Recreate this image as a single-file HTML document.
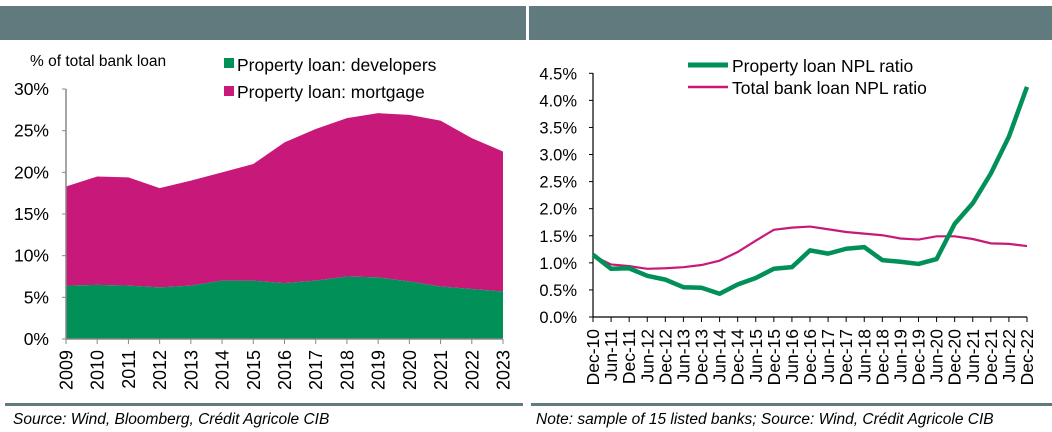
<!DOCTYPE html>
<html><head><meta charset="utf-8"><style>
html,body{margin:0;padding:0;background:#fff;}
svg{display:block;font-family:"Liberation Sans",Arial,sans-serif;}
</style></head><body>
<svg id="s" width="1052" height="432" viewBox="0 0 1052 432">
<rect x="0" y="6" width="526" height="34" fill="#607a7e"/>
<rect x="529" y="6" width="523" height="34" fill="#607a7e"/>
<rect x="5" y="403" width="518" height="3" fill="#607a7e"/>
<rect x="531" y="403" width="521" height="3" fill="#607a7e"/>
<text x="13" y="424" font-size="15.5" font-style="italic" fill="#000">Source: Wind, Bloomberg, Crédit Agricole CIB</text>
<text x="536" y="424" font-size="15.5" font-style="italic" fill="#000">Note: sample of 15 listed banks; Source: Wind, Crédit Agricole CIB</text>

<text x="30" y="66" font-size="15.5">% of total bank loan</text>
<rect x="224" y="58" width="10" height="10" fill="#009058"/>
<text x="237" y="71" font-size="17.5">Property loan: developers</text>
<rect x="224" y="86" width="10" height="10" fill="#c8197a"/>
<text x="237" y="98" font-size="17.5">Property loan: mortgage</text>

<line x1="688" y1="65" x2="728" y2="65" stroke="#009058" stroke-width="5"/>
<text x="732" y="72" font-size="17.5">Property loan NPL ratio</text>
<line x1="688" y1="87" x2="728" y2="87" stroke="#c8197a" stroke-width="2.5"/>
<text x="732" y="94" font-size="17.5">Total bank loan NPL ratio</text>
<g id="L"></g><g id="R"></g>
</svg>
<script>
const years=["2009","2010","2011","2012","2013","2014","2015","2016","2017","2018","2019","2020","2021","2022","2023"];
const developers=[6.4,6.5,6.4,6.2,6.4,7.0,7.0,6.7,7.0,7.5,7.4,6.9,6.3,6.0,5.7];
const mortgage=[11.9,13.0,13.0,11.9,12.6,13.0,14.0,16.9,18.2,19.0,19.7,20.0,19.9,18.1,16.8];
const leftTicks=[0,5,10,15,20,25,30];
const periods=["Dec-10","Jun-11","Dec-11","Jun-12","Dec-12","Jun-13","Dec-13","Jun-14","Dec-14","Jun-15","Dec-15","Jun-16","Dec-16","Jun-17","Dec-17","Jun-18","Dec-18","Jun-19","Dec-19","Jun-20","Dec-20","Jun-21","Dec-21","Jun-22","Dec-22"];
const propertyNpl=[1.15,0.89,0.90,0.76,0.69,0.55,0.54,0.43,0.60,0.72,0.89,0.92,1.23,1.17,1.26,1.29,1.05,1.02,0.98,1.07,1.72,2.10,2.65,3.33,4.25];
const totalNpl=[1.13,0.97,0.94,0.89,0.90,0.92,0.96,1.04,1.20,1.41,1.61,1.65,1.67,1.62,1.57,1.54,1.51,1.45,1.43,1.49,1.49,1.44,1.36,1.35,1.31];
const rightTicks=[0,0.5,1.0,1.5,2.0,2.5,3.0,3.5,4.0,4.5];

const NS="http://www.w3.org/2000/svg";
function mk(p,t,a){const e=document.createElementNS(NS,t);for(const k in a)e.setAttribute(k,a[k]);p.appendChild(e);return e;}
const L=document.getElementById('L');
const lx=i=>66+i*(503-66)/(years.length-1);
const ly=v=>339-v*(339-89)/30;
let pd="M"+lx(0)+","+ly(0);
developers.forEach((v,i)=>pd+=" L"+lx(i)+","+ly(v));
pd+=" L"+lx(years.length-1)+","+ly(0)+"Z";
let pm="M"+lx(0)+","+ly(developers[0]);
mortgage.forEach((v,i)=>pm+=" L"+lx(i)+","+ly(v+developers[i]));
for(let i=years.length-1;i>=0;i--)pm+=" L"+lx(i)+","+ly(developers[i]);
pm+="Z";
let e=mk(L,'path',{d:pm,fill:'#c8197a'});


e=mk(L,'path',{d:pd,fill:'#009058'});


e=mk(L,'line',{x1:66,y1:89,x2:66,y2:339,stroke:'#888','stroke-width':1.5});


e=mk(L,'line',{x1:66,y1:339,x2:503,y2:339,stroke:'#888','stroke-width':1.5});


leftTicks.forEach(v=>{
  mk(L,'line',{x1:62,y1:ly(v),x2:66,y2:ly(v),stroke:'#888'});
  e=mk(L,'text',{x:49,y:ly(v)+6,'font-size':17.5,'text-anchor':'end'});e.textContent=v+'%';
  
  
});
years.forEach((y,i)=>{
  mk(L,'line',{x1:lx(i),y1:339,x2:lx(i),y2:344,stroke:'#888'});
  e=mk(L,'text',{x:0,y:0,'font-size':18,'text-anchor':'end',transform:`translate(${lx(i)+6.5},350) rotate(-90)`});e.textContent=y;
  
  
});
const R=document.getElementById('R');
const rx=i=>593+i*(1027-593)/(periods.length-1);
const ry=v=>317-v*(317-73.3)/4.5;
e=mk(R,'line',{x1:593,y1:73,x2:593,y2:317,stroke:'#000','stroke-width':1.2});


e=mk(R,'line',{x1:593,y1:317,x2:1027,y2:317,stroke:'#000','stroke-width':1.2});


rightTicks.forEach(v=>{
  mk(R,'line',{x1:589,y1:ry(v),x2:593,y2:ry(v),stroke:'#000'});
  e=mk(R,'text',{x:577,y:ry(v)+6,'font-size':16.5,'text-anchor':'end'});e.textContent=v.toFixed(1)+'%';
  
  
});
periods.forEach((p,i)=>{
  mk(R,'line',{x1:rx(i),y1:317,x2:rx(i),y2:322,stroke:'#000'});
  e=mk(R,'text',{x:0,y:0,'font-size':17.5,'text-anchor':'end',transform:`translate(${rx(i)+6},329) rotate(-90)`});e.textContent=p;
  
  
});
e=mk(R,'polyline',{points:totalNpl.map((v,i)=>rx(i)+','+ry(v)).join(' '),fill:'none',stroke:'#c8197a','stroke-width':2.2});


e=mk(R,'polyline',{points:propertyNpl.map((v,i)=>rx(i)+','+ry(v)).join(' '),fill:'none',stroke:'#009058','stroke-width':4.5,'stroke-linejoin':'round'});


</script>
</body></html>
